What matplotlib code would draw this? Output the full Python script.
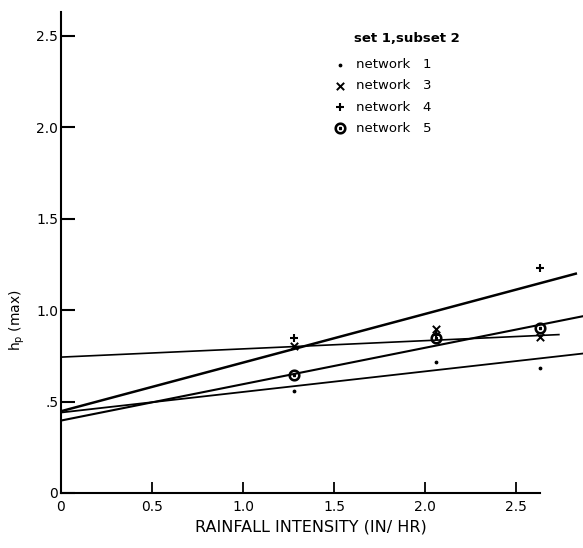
import numpy as np
import matplotlib
matplotlib.use("Agg")
import matplotlib.pyplot as plt

# rainfall intensity (in/hr) of the three storms
rain = [1.28, 2.06, 2.63]

# measured hp(max) for each network
net1 = [0.557, 0.716, 0.683]
net3 = [0.803, 0.896, 0.853]
net4 = [0.847, 0.863, 1.23]
net5 = [0.645, 0.85, 0.902]

# fitted lines: intercept, slope, where the drawn line stops
fit_names = ['network 1', 'network 3', 'network 4', 'network 5']
fit_a = [0.440, 0.743, 0.447, 0.396]
fit_b = [0.1125, 0.045, 0.266, 0.199]
fit_end = [2.87, 2.74, 2.835, 2.87]
fit_lw = [1.3, 1.2, 1.8, 1.5]

xticks = [0, 0.5, 1.0, 1.5, 2.0, 2.5]
xlabels = ['0', '0.5', '1.0', '1.5', '2.0', '2.5']
yticks = [0, 0.5, 1.0, 1.5, 2.0, 2.5]
ylabels = ['0', '.5', '1.0', '1.5', '2.0', '2.5']

fig = plt.figure(figsize=(5.83, 5.48), dpi=100)
ax = fig.add_axes([0.1046, 0.1004, 0.8954, 0.8776])

for i in range(len(fit_names)):
    xs = np.array([0, fit_end[i]])
    ax.plot(xs, fit_a[i] + fit_b[i] * xs, color='black', lw=fit_lw[i],
            solid_capstyle='butt', clip_on=False)

ax.scatter(rain, net1, marker='.', s=12, color='black', label='network   1', zorder=3)
ax.scatter(rain, net3, marker='x', s=28, color='black', linewidths=1.4, label='network   3', zorder=3)
ax.scatter(rain, net4, marker='+', s=40, color='black', linewidths=1.5, label='network   4', zorder=3)
ax.scatter(rain, net5, marker=r'$\odot$', s=60, color='black', label='network   5', zorder=3)

ax.set_xlim(0, 2.868)
ax.set_ylim(0, 2.63)

ax.spines['top'].set_visible(False)
ax.spines['right'].set_visible(False)
ax.spines['left'].set_linewidth(1.5)
ax.spines['bottom'].set_linewidth(1.5)
ax.spines['bottom'].set_bounds(0, 2.63)

ax.set_xticks(xticks)
ax.set_xticklabels(xlabels)
ax.set_yticks(yticks)
ax.set_yticklabels(ylabels)
ax.tick_params(axis='y', direction='in', length=10, width=1.5, pad=2, labelsize=10)
ax.tick_params(axis='x', direction='in', length=8, width=1.3, pad=5, labelsize=10)

ax.set_xlabel('RAINFALL INTENSITY (IN/ HR)', fontsize=11.5)
ax.xaxis.set_label_coords(0.479, -0.055)
ax.set_ylabel(r'h$_\mathregular{p}$ (max)', fontsize=10)
ax.yaxis.set_label_coords(-0.066, 0.36)

leg = ax.legend(loc='upper left', bbox_to_anchor=(0.51, 0.915), frameon=False,
                fontsize=9.5, handletextpad=0.6, handlelength=1.2,
                labelspacing=0.62, borderaxespad=0)
ax.annotate('set 1,subset 2', xy=(407, 548 - 38), xycoords='figure pixels',
            fontsize=9.5, fontweight='bold', ha='center', va='center')

fig.savefig('out.png', dpi=100)
